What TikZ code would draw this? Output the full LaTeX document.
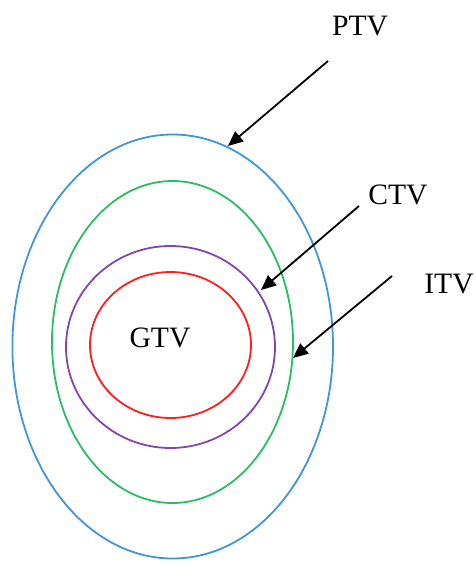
\documentclass[tikz,border=0pt]{standalone}
\usepackage{fontspec}
\setmainfont{Liberation Serif}
\usepackage{xcolor}
\usepackage{tikz}
\usetikzlibrary{arrows.meta}

\definecolor{ptvblue}{RGB}{64,150,220}
\definecolor{ctvgreen}{RGB}{40,190,100}
\definecolor{itvpurple}{RGB}{130,70,180}
\definecolor{gtvred}{RGB}{255,30,30}

\begin{document}
\begin{tikzpicture}[
        x=1pt, y=-1pt,
        vol/.style={line width=1.8pt},
        lbl/.style={inner sep=0pt, font=\fontsize{29.6}{32}\selectfont},
        arr/.style={-{Triangle[length=15pt,width=13pt]}, line width=1.8pt}
    ]
        \useasboundingbox (0,0) rectangle (475,563);
        % volumes
        \draw[vol, ptvblue]   (172.7,346.5) ellipse [x radius=160.3, y radius=212];
        \draw[vol, ctvgreen]  (172.5,342)   ellipse [x radius=120.5, y radius=161];
        \draw[vol, itvpurple] (170.5,347)   ellipse [x radius=104.5, y radius=101];
        \draw[vol, gtvred]    (170.5,345)   ellipse [x radius=80.5,  y radius=73];
        % labels
        \node[lbl] (ptv) at (360,26)    {PTV};
        \node[lbl] (ctv) at (398,195)   {CTV};
        \node[lbl] (itv) at (449,284)   {ITV};
        \node[lbl] (gtv) at (160,337.5) {GTV};
        % arrows
        \coordinate (ptvs) at (328,61);  \coordinate (ptvt) at (228,146);
        \coordinate (ctvs) at (359,206); \coordinate (ctvt) at (261,290);
        \coordinate (itvs) at (392,276); \coordinate (itvt) at (293,358);
        \draw[arr] (ptvs)--(ptvt); \draw[arr] (ctvs)--(ctvt);
        \draw[arr] (itvs)--(itvt);
    \end{tikzpicture}
\end{document}
